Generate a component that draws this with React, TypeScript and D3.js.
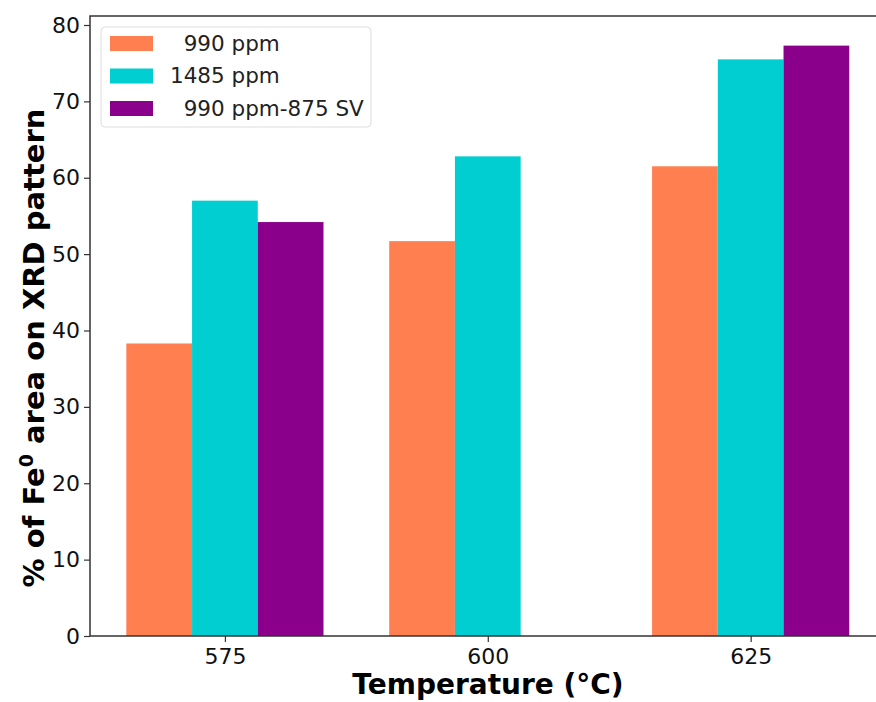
import { useEffect, useRef } from 'react';
import * as d3 from 'd3';

const temperatures = [575, 600, 625];
const seriesNames = ['  990 ppm', '1485 ppm', '  990 ppm-875 SV'];
const seriesColors = ['#FF7F50', '#00CED1', '#8B008B'];
const ppm990 = [38.3, 51.7, 61.5];
const ppm1485 = [57.0, 62.8, 75.5];
const ppm990sv = [54.2, NaN, 77.3];
const yTicks = [0, 10, 20, 30, 40, 50, 60, 70, 80];

const W = 876;
const H = 702;

export default function App() {
  const ref = useRef<SVGSVGElement>(null);

  useEffect(() => {
    document.body.style.margin = '0';
    document.body.style.overflow = 'hidden';
    const svg = d3.select(ref.current);
    svg.selectAll('*').remove();

    const left = 90;
    const right = 880;
    const top = 16;
    const bottom = 636;

    const x = d3.scaleLinear().domain([562.17, 637.3]).range([left, right]);
    const y = d3.scaleLinear().domain([0, 80]).range([bottom, 25]);
    const barW = 6.25;
    const font = 'DejaVu Sans, sans-serif';

    const series = [ppm990, ppm1485, ppm990sv];
    series.forEach((vals, i) => {
      const offset = (i - 1) * barW;
      svg
        .append('g')
        .selectAll('rect')
        .data(temperatures.map((t, j) => ({ t, v: vals[j] })).filter((d) => Number.isFinite(d.v)))
        .join('rect')
        .attr('x', (d) => x(d.t + offset - barW / 2))
        .attr('width', x(barW) - x(0))
        .attr('y', (d) => y(d.v))
        .attr('height', (d) => y(0) - y(d.v))
        .attr('fill', seriesColors[i]);
    });

    // spines
    svg
      .append('rect')
      .attr('x', left)
      .attr('y', top)
      .attr('width', right - left)
      .attr('height', bottom - top)
      .attr('fill', 'none')
      .attr('stroke', '#333')
      .attr('stroke-width', 1.5);

    const yAxis = svg
      .append('g')
      .attr('transform', `translate(${left},0)`)
      .call(d3.axisLeft(y).tickValues(yTicks).tickSize(6).tickPadding(4).tickFormat(d3.format('d')));
    yAxis.select('.domain').remove();
    yAxis.selectAll('line').attr('stroke', '#333').attr('stroke-width', 1.2);
    yAxis.selectAll('text').attr('font-family', font).attr('font-size', 22).attr('fill', '#111');

    const xAxis = svg
      .append('g')
      .attr('transform', `translate(0,${bottom})`)
      .call(d3.axisBottom(x).tickValues(temperatures).tickSize(6).tickPadding(6).tickFormat(d3.format('d')));
    xAxis.select('.domain').remove();
    xAxis.selectAll('line').attr('stroke', '#333').attr('stroke-width', 1.2);
    xAxis.selectAll('text').attr('font-family', font).attr('font-size', 22).attr('fill', '#111');

    svg
      .append('text')
      .attr('x', 488)
      .attr('y', 694)
      .attr('text-anchor', 'middle')
      .attr('font-family', font)
      .attr('font-weight', 'bold')
      .attr('font-size', 28)
      .attr('fill', '#000')
      .text('Temperature (°C)');

    const yl = svg
      .append('text')
      .attr('transform', `translate(44,${(top + bottom) / 2 + 22}) rotate(-90)`)
      .attr('text-anchor', 'middle')
      .attr('font-family', font)
      .attr('font-weight', 'bold')
      .attr('font-size', 29)
      .attr('fill', '#000');
    yl.append('tspan').text('% of Fe');
    yl.append('tspan').attr('font-size', 19).attr('dy', -11).text('0');
    yl.append('tspan').attr('dy', 11).text(' area on XRD pattern');

    // legend
    const lg = svg.append('g').attr('transform', 'translate(101,27)');
    lg.append('rect')
      .attr('width', 270)
      .attr('height', 100)
      .attr('rx', 4)
      .attr('fill', '#fff')
      .attr('fill-opacity', 0.8)
      .attr('stroke', '#ddd');
    seriesNames.forEach((name, i) => {
      const row = lg.append('g').attr('transform', `translate(0,${16 + i * 32.5})`);
      row.append('rect').attr('x', 9).attr('y', -7).attr('width', 43).attr('height', 15).attr('fill', seriesColors[i]);
      row
        .append('text')
        .attr('x', 69)
        .attr('y', 0)
        .attr('dy', '0.35em')
        .attr('font-family', font)
        .attr('font-size', 21.5)
        .attr('fill', '#222')
        .attr('xml:space', 'preserve')
        .style('white-space', 'pre')
        .text(name);
    });
  }, []);

  return (
    <div style={{ position: 'fixed', left: 0, top: 0, width: W, height: H, overflow: 'hidden' }}>
      <svg ref={ref} width={W} height={H} style={{ display: 'block', background: '#fff' }} />
    </div>
  );
}
